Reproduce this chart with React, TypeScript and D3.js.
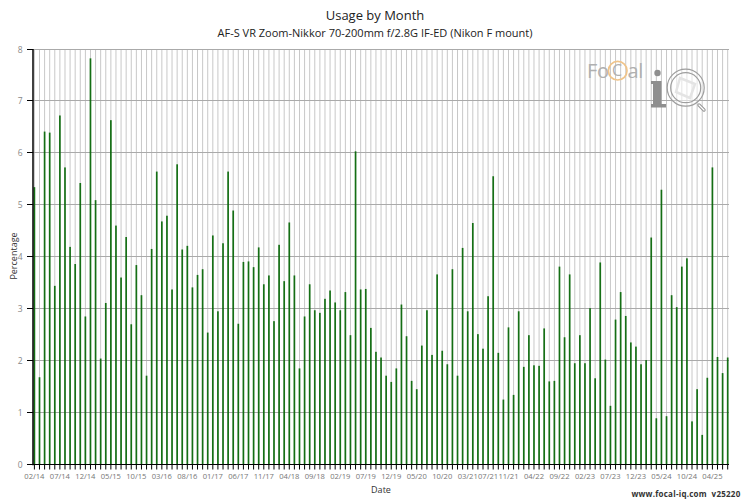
import React from "react";
import * as d3 from "d3";

const usage = [5.34,1.68,6.41,6.39,3.44,6.72,5.72,4.19,3.86,5.42,2.85,7.82,5.09,2.04,3.11,6.63,4.60,3.60,4.38,2.70,3.84,3.26,1.71,4.15,5.64,4.68,4.79,3.37,5.78,4.14,4.21,3.41,3.65,3.76,2.54,4.41,2.95,4.26,5.64,4.89,2.71,3.90,3.91,3.80,4.18,3.47,3.64,2.76,4.23,3.53,4.66,3.64,1.85,2.85,3.47,2.97,2.92,3.19,3.35,3.12,2.97,3.32,2.49,6.03,3.37,3.38,2.63,2.17,2.06,1.71,1.59,1.85,3.08,2.47,1.61,1.45,2.29,2.97,2.11,3.66,2.19,1.93,3.76,1.71,4.17,2.95,4.65,2.51,2.23,3.24,5.55,2.15,1.25,2.64,1.34,2.95,1.88,2.49,1.91,1.90,2.62,1.60,1.61,3.81,2.45,3.66,1.95,2.49,1.95,3.01,1.66,3.89,2.02,1.13,2.79,3.32,2.86,2.35,2.27,1.93,2.01,4.37,0.89,5.29,0.93,3.26,3.03,3.81,3.97,0.83,1.45,0.57,1.67,5.72,2.07,1.76,2.06];
const tickLabels = ["02/14","07/14","12/14","05/15","10/15","03/16","08/16","01/17","06/17","11/17","04/18","09/18","02/19","07/19","12/19","05/20","10/20","03/21","07/21","11/21","04/22","09/22","02/23","07/23","12/23","05/24","10/24","04/25"];
const tickSlots = [0,5,10,15,20,25,30,35,40,45,50,55,60,65,70,75,80,85,89,93,98,103,108,113,118,123,128,133];
const yTicks = [0,1,2,3,4,5,6,7,8];
const title = "Usage by Month";
const subtitle = "AF-S VR Zoom-Nikkor 70-200mm f/2.8G IF-ED (Nikon F mount)";
const font = "'Open Sans', sans-serif";

export default function App() {
  const x = d3.scaleLinear().domain([0, usage.length - 1]).range([34.4, 727.7]);
  const y = d3.scaleLinear().domain([0, 8]).range([464.5, 49.0]);
  const snap = (t: number) => Math.floor(y(t)) + 0.5;
  return (
    <svg width={750} height={500} style={{ position: "absolute", left: 0, top: 0, background: "#fff" }} fontFamily={font}>
      <text x={375} y={20} textAnchor="middle" fontSize={13} fill="#222">{title}</text>
      <text x={375} y={37} textAnchor="middle" fontSize={11} fill="#222">{subtitle}</text>

      {usage.map((_, i) => (
        <line key={i} x1={x(i)} x2={x(i)} y1={snap(8)} y2={snap(0)} stroke="#c8c8c8" strokeWidth={1} />
      ))}
      {yTicks.map((t) => (
        <line key={t} x1={33} x2={729} y1={snap(t)} y2={snap(t)} stroke="#aaaaaa" strokeWidth={1} />
      ))}

      <g>
        <text x={587} y={78} fontSize={20} fill="#b0b0b0" letterSpacing={-0.3}>Fo</text>
        <text x={612} y={76} fontSize={16} fill="#b0b0b0">C</text>
        <text x={627.5} y={78} fontSize={20} fill="#b0b0b0" letterSpacing={-0.3}>al</text>
        <circle cx={617.7} cy={70.7} r={9.3} fill="none" stroke="#f0c48a" strokeWidth={1.7} />
        <circle cx={657.5} cy={73} r={3.2} fill="#8f8f8f" />
        <rect x={653} y={81} width={8.5} height={24} fill="#8f8f8f" />
        <rect x={651} y={81} width={6} height={3} fill="#8f8f8f" />
        <rect x={651} y={104} width={15} height={3.5} fill="#8f8f8f" />
        <circle cx={685.7} cy={87.7} r={18.5} fill="#fff" fillOpacity={0.35} stroke="#9e9e9e" strokeWidth={1.2} />
        <circle cx={685.7} cy={87.7} r={15} fill="#fff" fillOpacity={0.3} stroke="#9e9e9e" strokeWidth={1.2} />
        <path d="M680 78 L695 84 L690 98 L676 92 Z" fill="none" stroke="#e4e4e4" strokeWidth={2.5} />
        <line x1={699} y1={105} x2={704} y2={110} stroke="#999" strokeWidth={3.4} strokeLinecap="round" />
        <line x1={699} y1={105} x2={704} y2={110} stroke="#fff" strokeWidth={1.2} strokeLinecap="round" />
      </g>

      {usage.map((v, i) => (
        <rect key={i} x={x(i) - 0.85} width={1.7} y={y(v)} height={y(0) - y(v)} fill="#006400" fillOpacity={0.9} />
      ))}

      <line x1={33} x2={33} y1={snap(8) - 0.5} y2={snap(0) + 0.7} stroke="#000" strokeWidth={1.5} />
      <line x1={27} x2={729} y1={snap(0)} y2={snap(0)} stroke="#000" strokeWidth={1.2} />
      {yTicks.map((t) => (
        <g key={t}>
          <line x1={27} x2={33} y1={snap(t)} y2={snap(t)} stroke="#000" strokeWidth={1} />
          <text x={22.5} y={snap(t) + 3} textAnchor="end" fontSize={8.5} fill="#888">{t}</text>
        </g>
      ))}
      {usage.map((_, i) => (
        <line key={i} x1={x(i)} x2={x(i)} y1={snap(0)} y2={snap(0) + 5} stroke="#000" strokeWidth={1} />
      ))}
      {tickLabels.map((l, i) => (
        <text key={l} x={x(tickSlots[i])} y={479} textAnchor="middle" fontSize={7.6} fill="#777">{l}</text>
      ))}

      <text x={381} y={493} textAnchor="middle" fontSize={9} fill="#333">Date</text>
      <text transform="translate(16.5,256) rotate(-90)" textAnchor="middle" fontSize={9} fill="#333">Percentage</text>
      <text x={740.5} y={497} textAnchor="end" fontSize={8} fontWeight={700} fill="#333" letterSpacing={0.25} xmlSpace="preserve">www.focal-iq.com  v25220</text>
    </svg>
  );
}
